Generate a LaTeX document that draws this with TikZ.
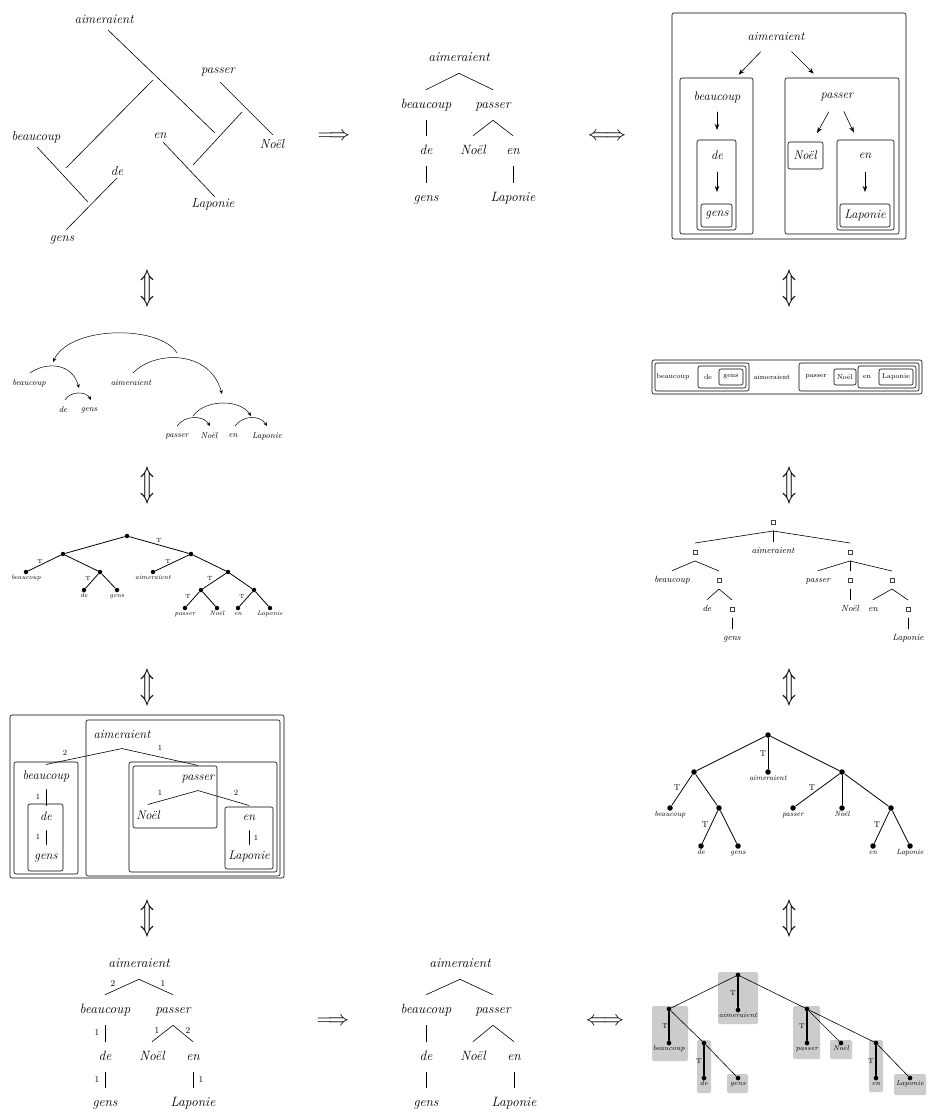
\documentclass[tikz,border=0pt]{standalone}
\usepackage{fontspec}
\usepackage{graphicx}
\usetikzlibrary{arrows.meta}
\tikzset{
  fA/.style={font=\fontsize{13}{15}\selectfont\itshape, inner sep=0pt},
  tA/.style={font=\fontsize{13.5}{15}\selectfont\itshape, inner xsep=0pt, inner ysep=9pt, text height=9pt, text depth=3pt},
  tB/.style={font=\fontsize{12.5}{14}\selectfont\itshape, inner xsep=0pt, inner ysep=6.5pt, text height=8.5pt, text depth=3pt},
  tC/.style={font=\fontsize{12.5}{14}\selectfont\itshape, inner sep=0pt},
  num/.style={font=\fontsize{9}{10}\selectfont, inner sep=0pt},
  numB/.style={font=\fontsize{8}{9}\selectfont, inner sep=0pt},
  bx/.style={rounded corners=2pt},
  arr/.style={-{Stealth[length=6pt,width=4.5pt]}},
  sarr/.style={-{Stealth[length=4pt,width=3.5pt]}, line width=0.5pt},
  arcw/.style={font=\fontsize{8.5}{9}\selectfont\itshape, inner sep=0pt},
  rw/.style={font=\fontsize{7}{8}\selectfont, inner sep=0pt},
  dot6/.style={circle, fill, inner sep=0pt, minimum size=4.5pt, label distance=5.5pt},
  lab6/.style={font=\fontsize{6.5}{7}\selectfont\itshape, inner sep=0pt, text height=4.3pt, text depth=1.3pt},
  tl6/.style={font=\fontsize{6}{7}\selectfont, inner sep=0pt},
  sq/.style={draw=black!75, line width=0.4pt, minimum size=3.8pt, inner sep=0pt, outer sep=7.1pt},
  t7/.style={font=\fontsize{9}{10}\selectfont\itshape, inner xsep=0pt, inner ysep=5pt, text height=6pt, text depth=2pt},
  dot9/.style={circle, fill, inner sep=0pt, minimum size=5.5pt, label distance=4pt},
  lab9/.style={font=\fontsize{7.5}{8}\selectfont\itshape, inner sep=0pt, text height=5pt, text depth=1.5pt},
  tl9/.style={font=\fontsize{8.5}{9}\selectfont, inner sep=0pt},
  dot12/.style={circle, fill, inner sep=0pt, minimum size=4.7pt, label distance=4pt},
  lab12/.style={font=\fontsize{7}{8}\selectfont\itshape, inner sep=0pt, text height=4.8pt, text depth=1.4pt},
  tl12/.style={font=\fontsize{7}{8}\selectfont, inner sep=0pt},
  gbox/.style={fill=black!20, draw=none, rounded corners=1.5pt},
  thk/.style={line width=1.5pt},
  thn/.style={line width=0.6pt},
  bigar/.style={font=\fontsize{21}{21}\selectfont, inner sep=0pt},
}
\newcommand{\UD}{\resizebox*{14pt}{36pt}{$\Updownarrow$}}
\begin{document}
\begin{tikzpicture}[x=1pt,y=-1pt, line width=0.6pt, line cap=round]
\useasboundingbox[fill=white] (0,0) rectangle (927,1117);

% ---------- Panel 1 ----------
\node[fA] (a1) at (104,19) {aimeraient};
\node[fA] (p1) at (218,72) {passer};
\node[fA] (n1) at (272,144) {Noël};
\node[fA] (b1) at (36,137) {beaucoup};
\node[fA] (d1) at (117,171) {de};
\node[fA] (g1) at (62,240) {gens};
\node[fA] (e1) at (160,136) {en};
\node[fA] (l1) at (213,204) {Laponie};
\draw (108,30) -- (215,133);
\draw (220,82) -- (273,135);
\draw (153,80) -- (66,168);
\draw (242,112) -- (193,165);
\draw (37,147) -- (88,202);
\draw (117,178) -- (66,230);
\draw (163,142) -- (215,197);

\node[bigar] (imp1) at (334,137) {$\Longrightarrow$};
\node[bigar] (eqv1) at (607,137) {$\Longleftrightarrow$};

% ---------- Panel 2 ----------
\node[tA] (a2) at (459,58) {aimeraient};
\node[tA] (b2) at (426,105) {beaucoup};
\node[tA] (p2) at (493,105) {passer};
\node[tA] (d2) at (426,151) {de};
\node[tA] (n2) at (473,151) {Noël};
\node[tA] (e2) at (513,151) {en};
\node[tA] (g2) at (426,198) {gens};
\node[tA] (l2) at (513,198) {Laponie};
\draw (a2.south) -- (b2.north);
\draw (a2.south) -- (p2.north);
\draw (b2.south) -- (d2.north);
\draw (p2.south) -- (n2.north);
\draw (p2.south) -- (e2.north);
\draw (d2.south) -- (g2.north);
\draw (e2.south) -- (l2.north);

% ---------- Panel 3 ----------
\draw[bx] (672,13) rectangle (906,239);
\draw[bx] (680,78) rectangle (753,234);
\draw[bx] (697,140) rectangle (736,230);
\draw[bx] (701,204) rectangle (732,227);
\draw[bx] (785,78) rectangle (899,234);
\draw[bx] (788,142) rectangle (823,169);
\draw[bx] (837,140) rectangle (894,230);
\draw[bx] (840,204) rectangle (890,227);
\node[tC] (a3) at (776,36) {aimeraient};
\node[tC] (b3) at (717,97) {beaucoup};
\node[tC] (d3) at (717,155) {de};
\node[tC] (g3) at (717,215) {gens};
\node[tC] (p3) at (837,97) {passer};
\node[tC] (n3) at (805,155) {Noël};
\node[tC] (e3) at (865,156) {en};
\node[tC] (l3) at (865,215) {Laponie};
\draw[arr, shorten <=22pt, shorten >=31pt] (a3.center) -- (b3.center);
\draw[arr, shorten <=22pt, shorten >=33pt] (a3.center) -- (p3.center);
\draw[arr, shorten <=15pt, shorten >=25pt] (b3.center) -- (d3.center);
\draw[arr, shorten <=17pt, shorten >=23pt] (d3.center) -- (g3.center);
\draw[arr, shorten <=17pt, shorten >=25pt] (p3.center) -- (n3.center);
\draw[arr, shorten <=16pt, shorten >=26pt] (p3.center) -- (e3.center);
\draw[arr, shorten <=16pt, shorten >=23pt] (e3.center) -- (l3.center);

% ---------- double arrows ----------
\node (ud1) at (147,288) {\UD};
\node (ud2) at (147,485) {\UD};
\node (ud3) at (147,687) {\UD};
\node (ud4) at (147,918) {\UD};
\node (ud5) at (789,288) {\UD};
\node (ud6) at (789,485) {\UD};
\node (ud7) at (789,687) {\UD};
\node (ud8) at (789,918) {\UD};

% ---------- Panel 4 (arcs) ----------
\node[arcw] (b4) at (29,383) {beaucoup};
\node[arcw] (a4) at (131,383) {aimeraient};
\node[arcw] (d4) at (63,410) {de};
\node[arcw] (g4) at (89,410) {gens};
\node[arcw] (p4) at (177,436) {passer};
\node[arcw] (n4) at (209,436) {Noël};
\node[arcw] (e4) at (233,436) {en};
\node[arcw] (l4) at (267,436) {Laponie};
\draw[sarr] (177,353) .. controls (160,325) and (70,325) .. (53,362);
\draw[sarr] (30,373) .. controls (45,362) and (72,362) .. (79,388);
\draw[sarr] (133,373) .. controls (155,350) and (210,350) .. (222,394);
\draw[sarr] (65,400) .. controls (70,391) and (86,391) .. (91,400);
\draw[sarr] (193,416) .. controls (205,399) and (240,399) .. (251,416);
\draw[sarr] (177,426) .. controls (185,415) and (203,415) .. (210,426);
\draw[sarr] (235,426) .. controls (243,415) and (260,415) .. (267,426);

% ---------- Panel 5 (box row) ----------
\draw[bx] (652,360) rectangle (922,394);
\draw[bx] (655,363) rectangle (749,391);
\draw[bx] (698,366) rectangle (746,388);
\draw[bx] (719,369) rectangle (743,385);
\draw[bx] (799,363) rectangle (919,391);
\draw[bx] (834,369) rectangle (856,385);
\draw[bx] (858,366) rectangle (916,388);
\draw[bx] (879,369) rectangle (913,385);
\node[rw] (b5) at (673,377) {beaucoup};
\node[rw] (d5) at (708,377) {de};
\node[rw] (g5) at (731,377) {gens};
\node[rw] (a5) at (772,377) {aimeraient};
\node[rw] (p5) at (816,377) {passer};
\node[rw] (n5) at (845,377) {Noël};
\node[rw] (e5) at (867,377) {en};
\node[rw] (l5) at (896,377) {Laponie};

% ---------- Panel 6 (dot tree) ----------
\begin{scope}[line width=0.8pt]
\node[dot6] (r6) at (127,536) {};
\node[dot6] (A6) at (63,554) {};
\node[dot6] (B6) at (191,554) {};
\node[dot6, label={[lab6]below:beaucoup}] (L61) at (26,572) {};
\node[dot6] (C6) at (100,572) {};
\node[dot6, label={[lab6]below:de}] (L62) at (84,590) {};
\node[dot6, label={[lab6]below:gens}] (L63) at (117,590) {};
\node[dot6, label={[lab6]below:aimeraient}] (L64) at (153,572) {};
\node[dot6] (D6) at (228,572) {};
\node[dot6] (E6) at (201,590) {};
\node[dot6] (F6) at (254,590) {};
\node[dot6, label={[lab6]below:passer}] (L65) at (185,608) {};
\node[dot6, label={[lab6]below:Noël}] (L66) at (217,608) {};
\node[dot6, label={[lab6]below:en}] (L67) at (238,608) {};
\node[dot6, label={[lab6]below:Laponie}] (L68) at (270,608) {};
\draw (r6) -- (A6); \draw (r6) -- (B6);
\draw (A6) -- (L61); \draw (A6) -- (C6);
\draw (C6) -- (L62); \draw (C6) -- (L63);
\draw (B6) -- (L64); \draw (B6) -- (D6);
\draw (D6) -- (E6); \draw (D6) -- (F6);
\draw (E6) -- (L65); \draw (E6) -- (L66);
\draw (F6) -- (L67); \draw (F6) -- (L68);
\end{scope}
\node[tl6] at (159,540) {T};
\node[tl6] at (40,561) {T};
\node[tl6] at (88,578) {T};
\node[tl6] at (168,561) {T};
\node[tl6] at (210,578) {T};
\node[tl6] at (188,596) {T};
\node[tl6] at (242,596) {T};

% ---------- Panel 7 (square tree) ----------
\node[sq] (r7) at (773,522) {};
\node[t7] (m7) at (773,551) {aimeraient};
\node[sq] (a7) at (695,552) {};
\node[sq] (b7) at (850,552) {};
\node[t7] (bc7) at (672,580) {beaucoup};
\node[sq] (c7) at (719,580) {};
\node[t7] (de7) at (707,609) {de};
\node[sq] (g7s) at (732,609) {};
\node[t7] (ge7) at (732,638) {gens};
\node[t7] (pa7) at (818,580) {passer};
\node[sq] (n7s) at (850,580) {};
\node[sq] (e7s) at (892,580) {};
\node[t7] (no7) at (850,609) {Noël};
\node[t7] (en7) at (873,609) {en};
\node[sq] (l7s) at (908,609) {};
\node[t7] (la7) at (908,638) {Laponie};
\draw (r7.south) -- (a7.north);
\draw (r7.south) -- (m7.north);
\draw (r7.south) -- (b7.north);
\draw (a7.south) -- (bc7.north);
\draw (a7.south) -- (c7.north);
\draw (c7.south) -- (de7.north);
\draw (c7.south) -- (g7s.north);
\draw (g7s.south) -- (ge7.north);
\draw (b7.south) -- (pa7.north);
\draw (b7.south) -- (n7s.north);
\draw (b7.south) -- (e7s.north);
\draw (n7s.south) -- (no7.north);
\draw (e7s.south) -- (en7.north);
\draw (e7s.south) -- (l7s.north);
\draw (l7s.south) -- (la7.north);

% ---------- Panel 8 (nested boxes) ----------
\draw[bx] (10,715) rectangle (284,878);
\draw[bx] (86,720) rectangle (280,876);
\draw[bx] (14,762) rectangle (78,874);
\draw[bx] (28,804) rectangle (63,871);
\draw[bx] (129,762) rectangle (277,872);
\draw[bx] (133,766) rectangle (217,828);
\draw[bx] (225,807) rectangle (273,869);
\node[tB] (a8) at (122,736) {aimeraient};
\node[tB] (b8) at (46,777) {beaucoup};
\node[tB] (d8) at (46,818) {de};
\node[tB] (g8) at (46,857) {gens};
\node[tB] (p8) at (198,778) {passer};
\node[tB] (n8) at (148,817) {Noël};
\node[tB] (e8) at (249,818) {en};
\node[tB] (l8) at (249,857) {Laponie};
\draw (a8.south) -- (b8.north);
\draw (a8.south) -- (p8.north);
\draw (b8.south) -- (d8.north);
\draw (d8.south) -- (g8.north);
\draw (p8.south) -- (n8.north);
\draw (p8.south) -- (e8.north);
\draw (e8.south) -- (l8.north);
\node[numB] at (65,753) {2};
\node[numB] at (160,748) {1};
\node[numB] at (38,797) {1};
\node[numB] at (38,837) {1};
\node[numB] at (160,793) {1};
\node[numB] at (236,793) {2};
\node[numB] at (256,838) {1};

% ---------- Panel 9 (dot tree, flat) ----------
\begin{scope}[line width=0.8pt]
\node[dot9] (r9) at (768,735) {};
\node[dot9] (A9) at (694,772) {};
\node[dot9, label={[lab9]below:aimeraient}] (M9) at (768,772) {};
\node[dot9] (B9) at (842,772) {};
\node[dot9, label={[lab9]below:beaucoup}] (L91) at (670,808) {};
\node[dot9] (C9) at (719,808) {};
\node[dot9, label={[lab9]below:de}] (L92) at (701,846) {};
\node[dot9, label={[lab9]below:gens}] (L93) at (738,846) {};
\node[dot9, label={[lab9]below:passer}] (L94) at (793,808) {};
\node[dot9, label={[lab9]below:Noël}] (L95) at (842,808) {};
\node[dot9] (E9) at (891,808) {};
\node[dot9, label={[lab9]below:en}] (L96) at (873,846) {};
\node[dot9, label={[lab9]below:Laponie}] (L97) at (910,846) {};
\draw (r9) -- (A9); \draw (r9) -- (M9); \draw (r9) -- (B9);
\draw (A9) -- (L91); \draw (A9) -- (C9);
\draw (C9) -- (L92); \draw (C9) -- (L93);
\draw (B9) -- (L94); \draw (B9) -- (L95); \draw (B9) -- (E9);
\draw (E9) -- (L96); \draw (E9) -- (L97);
\end{scope}
\node[tl9] at (763,754) {T};
\node[tl9] at (677,788) {T};
\node[tl9] at (705,825) {T};
\node[tl9] at (812,788) {T};
\node[tl9] at (877,825) {T};

% ---------- Panel 10 ----------
\node[tA] (a10) at (139,964) {aimeraient};
\node[tA] (b10) at (105,1010) {beaucoup};
\node[tA] (p10) at (173,1010) {passer};
\node[tA] (d10) at (105,1057) {de};
\node[tA] (n10) at (152,1057) {Noël};
\node[tA] (e10) at (193,1057) {en};
\node[tA] (g10) at (105,1103) {gens};
\node[tA] (l10) at (193,1103) {Laponie};
\draw (a10.south) -- (b10.north);
\draw (a10.south) -- (p10.north);
\draw (b10.south) -- (d10.north);
\draw (p10.south) -- (n10.north);
\draw (p10.south) -- (e10.north);
\draw (d10.south) -- (g10.north);
\draw (e10.south) -- (l10.north);
\node[num] at (113,983) {2};
\node[num] at (163,983) {1};
\node[num] at (97,1032) {1};
\node[num] at (157,1030) {1};
\node[num] at (188,1030) {2};
\node[num] at (97,1079) {1};
\node[num] at (201,1079) {1};

\node[bigar] (imp2) at (333,1022) {$\Longrightarrow$};
\node[bigar] (eqv2) at (605,1022) {$\Longleftrightarrow$};

% ---------- Panel 11 ----------
\node[tA] (a11) at (460,964) {aimeraient};
\node[tA] (b11) at (426,1010) {beaucoup};
\node[tA] (p11) at (493,1010) {passer};
\node[tA] (d11) at (426,1057) {de};
\node[tA] (n11) at (473,1057) {Noël};
\node[tA] (e11) at (514,1057) {en};
\node[tA] (g11) at (426,1103) {gens};
\node[tA] (l11) at (514,1103) {Laponie};
\draw (a11.south) -- (b11.north);
\draw (a11.south) -- (p11.north);
\draw (b11.south) -- (d11.north);
\draw (p11.south) -- (n11.north);
\draw (p11.south) -- (e11.north);
\draw (d11.south) -- (g11.north);
\draw (e11.south) -- (l11.north);

% ---------- Panel 12 (dot tree with gray boxes) ----------
\fill[gbox] (718,972) rectangle (758,1024);
\fill[gbox] (652,1006) rectangle (688,1061);
\fill[gbox] (697,1040) rectangle (711,1093);
\fill[gbox] (727,1074) rectangle (748,1093);
\fill[gbox] (793,1006) rectangle (820,1059);
\fill[gbox] (830,1040) rectangle (852,1059);
\fill[gbox] (869,1040) rectangle (883,1092);
\fill[gbox] (894,1074) rectangle (926,1095);
\node[dot12] (r12) at (738,975) {};
\node[dot12, label={[lab12]below:aimeraient}] (M12) at (738,1010) {};
\node[dot12] (A12) at (669,1009) {};
\node[dot12, label={[lab12]below:beaucoup}] (L121) at (669,1043) {};
\node[dot12] (C12) at (704,1043) {};
\node[dot12, label={[lab12]below:de}] (L122) at (704,1078) {};
\node[dot12, label={[lab12]below:gens}] (L123) at (738,1078) {};
\node[dot12] (B12) at (807,1009) {};
\node[dot12, label={[lab12]below:passer}] (L124) at (807,1043) {};
\node[dot12, label={[lab12]below:Noël}] (L125) at (841,1043) {};
\node[dot12] (E12) at (876,1043) {};
\node[dot12, label={[lab12]below:en}] (L126) at (876,1078) {};
\node[dot12, label={[lab12]below:Laponie}] (L127) at (910,1078) {};
\draw[thn] (r12) -- (A12);
\draw[thk] (r12) -- (M12);
\draw[thn] (r12) -- (B12);
\draw[thk] (A12) -- (L121);
\draw[thn] (A12) -- (C12);
\draw[thk] (C12) -- (L122);
\draw[thn] (C12) -- (L123);
\draw[thk] (B12) -- (L124);
\draw[thn] (B12) -- (L125);
\draw[thn] (B12) -- (E12);
\draw[thk] (E12) -- (L126);
\draw[thn] (E12) -- (L127);
\node[tl12] at (733,993) {T};
\node[tl12] at (665,1026) {T};
\node[tl12] at (699,1061) {T};
\node[tl12] at (802,1026) {T};
\node[tl12] at (871,1061) {T};

\end{tikzpicture}
\end{document}
